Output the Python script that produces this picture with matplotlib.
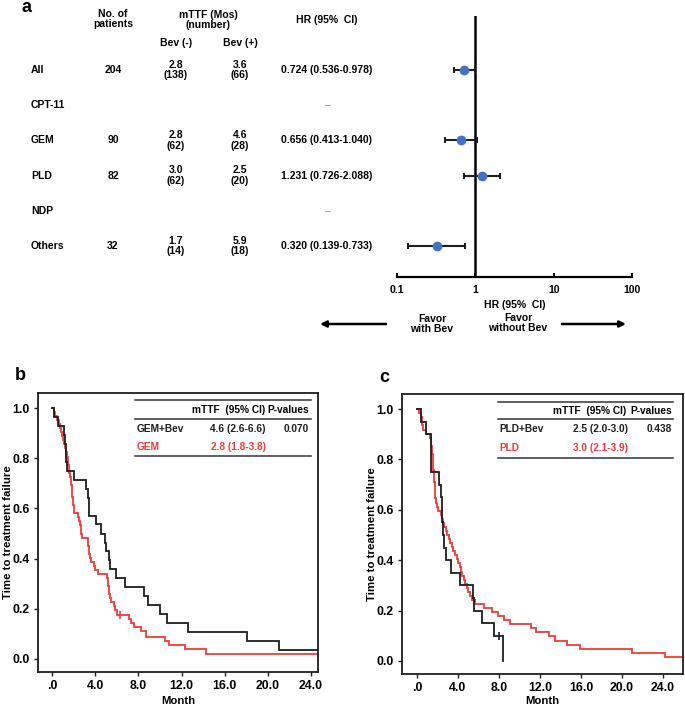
import matplotlib
matplotlib.use('Agg')
import matplotlib.pyplot as plt
import matplotlib.transforms as mtransforms
import numpy as np

plt.rcParams['font.family'] = ['Liberation Sans', 'DejaVu Sans']
plt.rcParams['font.weight'] = 'bold'
plt.rcParams['axes.labelweight'] = 'bold'

W, H = 685, 709

# ---- panel a: forest plot data
groups = ['All', 'CPT-11', 'GEM', 'PLD', 'NDP', 'Others']
n_patients = ['204', '', '90', '82', '', '32']
mttf_no_bev = ['2.8\n(138)', '', '2.8\n(62)', '3.0\n(62)', '', '1.7\n(14)']
mttf_bev = ['3.6\n(66)', '', '4.6\n(28)', '2.5\n(20)', '', '5.9\n(18)']
hr = [0.724, None, 0.656, 1.231, None, 0.320]
hr_low = [0.536, None, 0.413, 0.726, None, 0.139]
hr_high = [0.978, None, 1.040, 2.088, None, 0.733]
hr_ticks = [0.1, 1, 10, 100]
hr_ticklabels = ['0.1', '1', '10', '100']

# ---- panel b: GEM (event times, survival after event)
gem_bev_t = [0.22, 0.52, 1.08, 1.17, 1.26, 1.32, 1.39, 2.07, 3.18, 3.30, 3.39, 3.45,
             4.07, 4.53, 4.87, 4.97, 5.27, 5.34, 5.89, 6.79, 8.5, 8.9, 10.0, 10.7,
             12.6, 18.1, 21.0]
gem_bev_s = [0.964, 0.929, 0.893, 0.857, 0.821, 0.786, 0.750, 0.714, 0.679, 0.643, 0.607, 0.571,
             0.536, 0.500, 0.464, 0.429, 0.393, 0.357, 0.321, 0.286, 0.250, 0.214, 0.179, 0.143,
             0.107, 0.071, 0.036]
gem_t = [0.15, 0.3, 0.45, 0.6, 0.75, 0.85, 0.95, 1.05, 1.15, 1.2, 1.3, 1.4, 1.45, 1.5,
         1.55, 1.6, 1.7, 1.75, 1.8, 1.82, 1.85, 1.88, 1.9, 1.95, 2.0, 2.05, 2.45, 2.5,
         2.6, 2.65, 2.7, 2.8, 3.3, 3.35, 3.4, 3.45, 3.5, 3.6, 3.9, 4.0, 4.3, 5.1, 5.15,
         5.2, 5.25, 5.3, 5.4, 5.5, 5.7, 5.8, 6.0, 7.1, 7.3, 7.6, 8.2, 8.7, 10.5, 10.8,
         12.3, 14.3]
gem_s = [0.984, 0.968, 0.952, 0.935, 0.919, 0.903, 0.887, 0.871, 0.855, 0.839, 0.823,
         0.806, 0.790, 0.774, 0.758, 0.742, 0.726, 0.710, 0.694, 0.677, 0.661, 0.645,
         0.629, 0.613, 0.597, 0.581, 0.565, 0.548, 0.532, 0.516, 0.500, 0.484, 0.468,
         0.452, 0.435, 0.419, 0.403, 0.387, 0.371, 0.355, 0.339, 0.323, 0.306, 0.290,
         0.274, 0.258, 0.242, 0.226, 0.210, 0.194, 0.177, 0.161, 0.145, 0.129, 0.113,
         0.089, 0.073, 0.056, 0.038, 0.019]
gem_censor = (6.3, 0.177)

# ---- panel c: PLD
pld_bev_t = [0.42, 0.85, 1.37, 2.18, 2.3, 2.4, 2.45, 2.54, 2.67, 2.83, 3.35, 4.23,
             5.43, 5.6, 6.34, 7.55, 8.4]
pld_bev_s = [0.95, 0.90, 0.75, 0.70, 0.65, 0.60, 0.55, 0.50, 0.45, 0.40, 0.35, 0.30,
             0.25, 0.20, 0.15, 0.10, 0.0]
pld_bev_censor = (8.0, 0.10)
pld_t = [0.2, 0.35, 0.45, 0.5, 0.6, 0.9, 1.3, 1.35, 1.4, 1.45, 1.5, 1.52, 1.55, 1.58,
         1.6, 1.62, 1.65, 1.7, 1.72, 1.75, 1.78, 1.8, 1.9, 2.0, 2.1, 2.3, 2.45, 2.55,
         2.65, 2.8, 2.9, 3.1, 3.25, 3.4, 3.55, 3.7, 3.9, 4.0, 4.15, 4.25, 4.4, 4.55,
         4.7, 4.85, 5.0, 5.2, 5.4, 5.7, 6.5, 7.3, 7.9, 8.5, 9.1, 11.1, 11.6, 12.9,
         13.5, 14.6, 15.9, 21.0, 24.2]
pld_s = [0.984, 0.968, 0.952, 0.935, 0.919, 0.903, 0.887, 0.871, 0.855, 0.839, 0.823,
         0.806, 0.790, 0.774, 0.758, 0.742, 0.726, 0.710, 0.694, 0.677, 0.661, 0.645,
         0.629, 0.613, 0.597, 0.581, 0.565, 0.548, 0.532, 0.516, 0.500, 0.484, 0.468,
         0.452, 0.435, 0.419, 0.403, 0.387, 0.371, 0.355, 0.339, 0.323, 0.306, 0.290,
         0.274, 0.258, 0.242, 0.226, 0.210, 0.194, 0.177, 0.161, 0.145, 0.129, 0.113,
         0.097, 0.081, 0.065, 0.048, 0.032, 0.016]

km_ticks = [0, 4, 8, 12, 16, 20, 24]
km_ticklabels = ['.0', '4.0', '8.0', '12.0', '16.0', '20.0', '24.0']

BLACK = '#1e1e1e'
RED = '#f23b3b'
BLUE = '#4472c4'

fig = plt.figure(figsize=(W / 100, H / 100), dpi=100)


def px_axes(x0, y0, x1, y1):
    return fig.add_axes([x0 / W, 1 - y1 / H, (x1 - x0) / W, (y1 - y0) / H])


# overlay in pixel coordinates for free text
bg = fig.add_axes([0, 0, 1, 1])
bg.set_xlim(0, W)
bg.set_ylim(H, 0)
bg.axis('off')

# ---------------- panel a
axf = px_axes(397, 16, 632, 277)
axf.set_xscale('log')
axf.set_xlim(0.1, 100)
axf.set_ylim(5.88, -1.53)
for sp in ['left', 'right', 'top']:
    axf.spines[sp].set_visible(False)
axf.spines['bottom'].set_linewidth(1.6)
axf.set_yticks([])
axf.set_xticks(hr_ticks)
axf.set_xticklabels(hr_ticklabels)
axf.minorticks_off()
axf.tick_params(axis='x', direction='in', length=3, width=1.4, labelsize=7.5, pad=6)
axf.set_xlabel('HR (95%  CI)', fontsize=7.5, labelpad=3)
axf.axvline(1, color='black', lw=1.8)
axf.patch.set_alpha(0)

for i in range(len(groups)):
    if hr[i] is None:
        continue
    axf.errorbar(hr[i], i, xerr=[[hr[i] - hr_low[i]], [hr_high[i] - hr[i]]], fmt='o',
                 color=BLUE, ms=6, ecolor=BLACK, elinewidth=1.5, capsize=2.2, capthick=1.5)

trans = mtransforms.blended_transform_factory(bg.transData, axf.transData)
fs = 7.5
for i, g in enumerate(groups):
    bg.text(31, i, g, transform=trans, ha='left', va='center', fontsize=fs)
    bg.text(113, i, n_patients[i], transform=trans, ha='center', va='center', fontsize=fs)
    bg.text(176, i, mttf_no_bev[i], transform=trans, ha='center', va='center', fontsize=fs, linespacing=1.05)
    bg.text(240, i, mttf_bev[i], transform=trans, ha='center', va='center', fontsize=fs, linespacing=1.05)
    if hr[i] is None:
        bg.text(328, i, '\u2013', transform=trans, ha='center', va='center', fontsize=fs,
                color='#888888', fontweight='normal')
    else:
        bg.text(327, i, f'{hr[i]:.3f} ({hr_low[i]:.3f}-{hr_high[i]:.3f})', transform=trans,
                ha='center', va='center', fontsize=fs)

bg.text(22, 7, 'a', fontsize=13, ha='left', va='center')
bg.text(113, 19, 'No. of\npatients', ha='center', va='center', fontsize=fs, linespacing=1.05)
bg.text(208, 20, 'mTTF (Mos)\n(number)', ha='center', va='center', fontsize=fs, linespacing=1.05)
bg.text(176, 43, 'Bev (-)', ha='center', va='center', fontsize=fs)
bg.text(240, 43, 'Bev (+)', ha='center', va='center', fontsize=fs)
bg.text(327, 20, 'HR (95%  CI)', ha='center', va='center', fontsize=fs)
bg.text(432, 324, 'Favor\nwith Bev', ha='center', va='center', fontsize=fs, linespacing=1.05)
bg.text(518, 323, 'Favor\nwithout Bev', ha='center', va='center', fontsize=fs, linespacing=1.05)
bg.annotate('', xy=(320, 324), xytext=(386, 324),
            arrowprops=dict(arrowstyle='-|>', color='black', lw=1.8, mutation_scale=9,
                            shrinkA=0, shrinkB=0))
bg.annotate('', xy=(626, 324), xytext=(562, 324),
            arrowprops=dict(arrowstyle='-|>', color='black', lw=1.8, mutation_scale=9,
                            shrinkA=0, shrinkB=0))


# ---------------- panels b, c
def km_step(ax, t, s, t_end, color):
    tt = [0] + list(t) + [t_end]
    ss = [1.0] + list(s) + [s[-1]]
    ax.step(tt, ss, where='post', color=color, lw=1.3, solid_joinstyle='miter')


def km_axes(box, xlim, letter_xy, letter, rows, label_col, head_x, val_x, p_x, frac):
    ax = px_axes(*box)
    ax.set_xlim(*xlim)
    ax.set_ylim(-0.052, 1.06)
    ax.set_xticks(km_ticks)
    ax.set_xticklabels(km_ticklabels)
    ax.set_yticks(np.arange(0, 1.01, 0.2))
    ax.set_yticklabels([f'{v:.1f}' for v in np.arange(0, 1.01, 0.2)])
    ax.tick_params(length=3, width=1, labelsize=8.8, color=BLACK, pad=3)
    for sp in ax.spines.values():
        sp.set_linewidth(1.3)
        sp.set_color(BLACK)
    x0_px, y0_px, x1_px, y1_px = box
    ax.set_xlabel('Month', fontsize=8.2, va='center')
    ax.xaxis.set_label_coords(0.5, (y1_px - 701) / (y1_px - y0_px))
    ax.set_ylabel('Time to treatment failure', fontsize=8.2, va='center')
    ax.yaxis.set_label_coords((x0_px - 30 - x0_px + 0) / (x1_px - x0_px) - 0.0, 0.5)
    bg.text(letter_xy[0], letter_xy[1], letter, fontsize=13, ha='left', va='center')
    # small summary table
    x0, x1, y_top, y_mid, y_bot, y_head, y_r1, y_r2 = frac
    for yy in (y_top, y_mid, y_bot):
        ax.plot([x0, x1], [yy, yy], transform=ax.transAxes, color='#333333', lw=1.1)
    ax.text(head_x, y_head, 'mTTF  (95% CI)', transform=ax.transAxes, ha='center', va='center', fontsize=7.3)
    ax.text(p_x, y_head, 'P-values', transform=ax.transAxes, ha='right', va='center', fontsize=7.3)
    for (name, val, p, col), yy in zip(rows, (y_r1, y_r2)):
        ax.text(label_col, yy, name, transform=ax.transAxes, ha='left', va='center', fontsize=7.3, color=col)
        ax.text(val_x, yy, val, transform=ax.transAxes, ha='right', va='center', fontsize=7.3, color=col)
        ax.text(p_x, yy, p, transform=ax.transAxes, ha='right', va='center', fontsize=7.3, color=col)
    return ax


axb = km_axes((38, 393, 318, 672), (-1.30, 24.65), (15, 376), 'b',
              [('GEM+Bev', '4.6 (2.6-6.6)', '0.070', BLACK), ('GEM', '2.8 (1.8-3.8)', '', RED)],
              0.354, 0.68, 0.814, 0.968,
              (0.346, 0.975, 0.975, 0.907, 0.774, 0.939, 0.871, 0.806))
km_step(axb, gem_t, gem_s, 26, RED)
km_step(axb, gem_bev_t, gem_bev_s, 26, BLACK)
axb.plot(*gem_censor, marker='|', ms=6, mew=1.2, color=RED)

axc = km_axes((402, 394, 683, 674), (-1.46, 25.95), (379, 378), 'c',
              [('PLD+Bev', '2.5 (2.0-3.0)', '0.438', BLACK), ('PLD', '3.0 (2.1-3.9)', '', RED)],
              0.345, 0.668, 0.804, 0.96,
              (0.342, 0.965, 0.971, 0.911, 0.771, 0.939, 0.875, 0.807))
km_step(axc, pld_t, pld_s, 27, RED)
km_step(axc, pld_bev_t, pld_bev_s, 8.4, BLACK)
axc.plot(*pld_bev_censor, marker='|', ms=6, mew=1.2, color=BLACK)

fig.savefig('out.png', dpi=100)
